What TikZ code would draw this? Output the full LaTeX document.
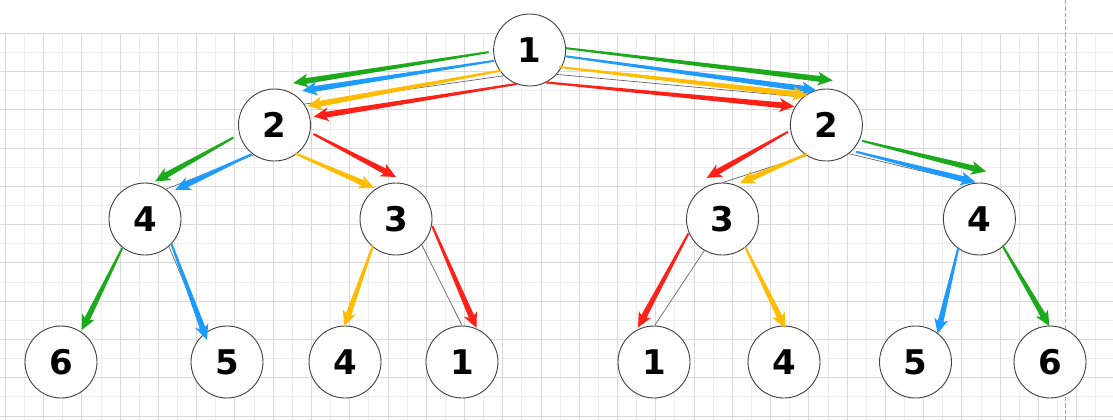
\documentclass[tikz,border=0pt]{standalone}
\usepackage{fontspec}
\setmainfont{DejaVu Sans}
\usepackage{tikz}
\usetikzlibrary{calc}
\definecolor{pathgreen}{RGB}{28,170,28}
\definecolor{pathblue}{RGB}{30,155,255}
\definecolor{pathyellow}{RGB}{255,188,0}
\definecolor{pathred}{RGB}{255,32,24}
\tikzset{
    %Define style for tree nodes
    city/.style={
           circle,
           draw=black!75, line width=0.9pt,
           fill=white,
           minimum size=72pt,
           inner sep=0pt,
           font=\fontsize{34}{34}\selectfont\bfseries,
           text centered},
    %Define style for tree edges
    branch/.style={
           draw=black!60,
           line width=0.7pt},
    %Define style for the paper grid
    gridminor/.style={draw=black!7, line width=0.8pt},
    gridmajor/.style={draw=black!15, line width=0.8pt},
    pageline/.style={draw=black!35, line width=0.9pt, dash pattern=on 4.5pt off 2pt}
}
% tapered arrow: colour, start, tip
\newcommand{\flowarrow}[3]{%
  \path (#2) coordinate (fs) (#3) coordinate (ft);
  \path ($(ft)!12.5pt!(fs)$) coordinate (fj) ($(ft)!15pt!(fs)$) coordinate (fb);
  \fill[#1] ($(fs)!1pt!90:(ft)$) -- ($(fj)!2.9pt!90:(ft)$) -- ($(fb)!7pt!90:(ft)$)
    -- (ft) -- ($(fb)!7pt!-90:(ft)$) -- ($(fj)!2.9pt!-90:(ft)$)
    -- ($(fs)!1pt!-90:(ft)$) -- cycle;
}
\begin{document}
\begin{tikzpicture}[x=1pt,y=-1pt]
\useasboundingbox (0,0) rectangle (1113,420);
% grid
\foreach \i in {0,...,57}
  \draw[gridminor] ({5.3+\i*19.13},33.3) -- ({5.3+\i*19.13},420);
\foreach \j in {0,...,20}
  \draw[gridminor] (0,{33.3+\j*19.13}) -- (1113,{33.3+\j*19.13});
\foreach \i in {0,2,...,56}
  \draw[gridmajor] ({5.3+\i*19.13},33.3) -- ({5.3+\i*19.13},420);
\foreach \j in {0,2,...,20}
  \draw[gridmajor] (0,{33.3+\j*19.13}) -- (1113,{33.3+\j*19.13});
\draw[pageline] (1065,0) -- (1065,420);
% tree
\node[city] (n1) at (529.6,50) {1};
\node[city] (n2l) at (274.5,125) {2};
\node[city] (n2r) at (826.4,125) {2};
\node[city] (n4l) at (145,219) {4};
\node[city] (n3l) at (396,219) {3};
\node[city] (n3r) at (722.5,219) {3};
\node[city] (n4r) at (979.4,219) {4};
\node[city] (l6) at (61,362) {6};
\node[city] (l5) at (227,362) {5};
\node[city] (l4) at (345,362) {4};
\node[city] (l1) at (462,362) {1};
\node[city] (r1) at (654,362) {1};
\node[city] (r4) at (784,362) {4};
\node[city] (r5) at (915.5,362) {5};
\node[city] (r6) at (1050,362) {6};
\draw[branch] (n1.225) -- (n2l.35);
\draw[branch] (n1.318) -- (n2r.130);
\draw[branch] (n2l.235) -- (n4l.55);
\draw[branch] (n4l.311) -- (l5.127);
\draw[branch] (n3l.315) -- (l1.90);
\draw[branch] (n2r.237) -- (n3r.90);
\draw[branch] (n2r.308) -- (n4r.101);
\draw[branch] (n3r.240) -- (r1.89);
% green path
\flowarrow{pathgreen}{$(n1)+(183:41pt)$}{$(n2l)+(66:46pt)$}
\flowarrow{pathgreen}{$(n1)+(3:36pt)$}{$(n2r)+(82:45pt)$}
\flowarrow{pathgreen}{$(n2l)+(197:43pt)$}{$(n4l)+(75:39pt)$}
\flowarrow{pathgreen}{$(n4l)+(232:37pt)$}{$(l6)+(57:38pt)$}
\flowarrow{pathgreen}{$(n2r)+(336:39pt)$}{$(n4r)+(82:48pt)$}
\flowarrow{pathgreen}{$(n4r)+(311:35pt)$}{$(r6)+(91:36pt)$}
% blue path
\flowarrow{pathblue}{$(n1)+(197:37pt)$}{$(n2l)+(51:44pt)$}
\flowarrow{pathblue}{$(n1)+(350:36pt)$}{$(n2r)+(106:36pt)$}
\flowarrow{pathblue}{$(n2l)+(232:37pt)$}{$(n4l)+(44:42pt)$}
\flowarrow{pathblue}{$(n4l)+(317:36pt)$}{$(l5)+(132:30pt)$}
\flowarrow{pathblue}{$(n2r)+(318:40pt)$}{$(n4r)+(96:37pt)$}
\flowarrow{pathblue}{$(n4r)+(234:36pt)$}{$(r5)+(52:36pt)$}
% yellow path
\flowarrow{pathyellow}{$(n1)+(216:35pt)$}{$(n2l)+(30:38pt)$}
\flowarrow{pathyellow}{$(n1)+(330:34pt)$}{$(n2r)+(122:35pt)$}
\flowarrow{pathyellow}{$(n2l)+(306:35pt)$}{$(n3l)+(125:38pt)$}
\flowarrow{pathyellow}{$(n3l)+(229:35pt)$}{$(l4)+(91:36pt)$}
\flowarrow{pathyellow}{$(n2r)+(236:35pt)$}{$(n3r)+(64:40pt)$}
\flowarrow{pathyellow}{$(n3r)+(309:36pt)$}{$(r4)+(88:34pt)$}
% red path
\flowarrow{pathred}{$(n1)+(250:36pt)$}{$(n2l)+(12:40pt)$}
\flowarrow{pathred}{$(n1)+(296:36pt)$}{$(n2r)+(150:37pt)$}
\flowarrow{pathred}{$(n2l)+(347:40pt)$}{$(n3l)+(90:42pt)$}
\flowarrow{pathred}{$(n3l)+(349:37pt)$}{$(l1)+(67:37pt)$}
\flowarrow{pathred}{$(n2r)+(190:39pt)$}{$(n3r)+(111:44pt)$}
\flowarrow{pathred}{$(n3r)+(203:37pt)$}{$(r1)+(115:38pt)$}
\end{tikzpicture}
\end{document}
